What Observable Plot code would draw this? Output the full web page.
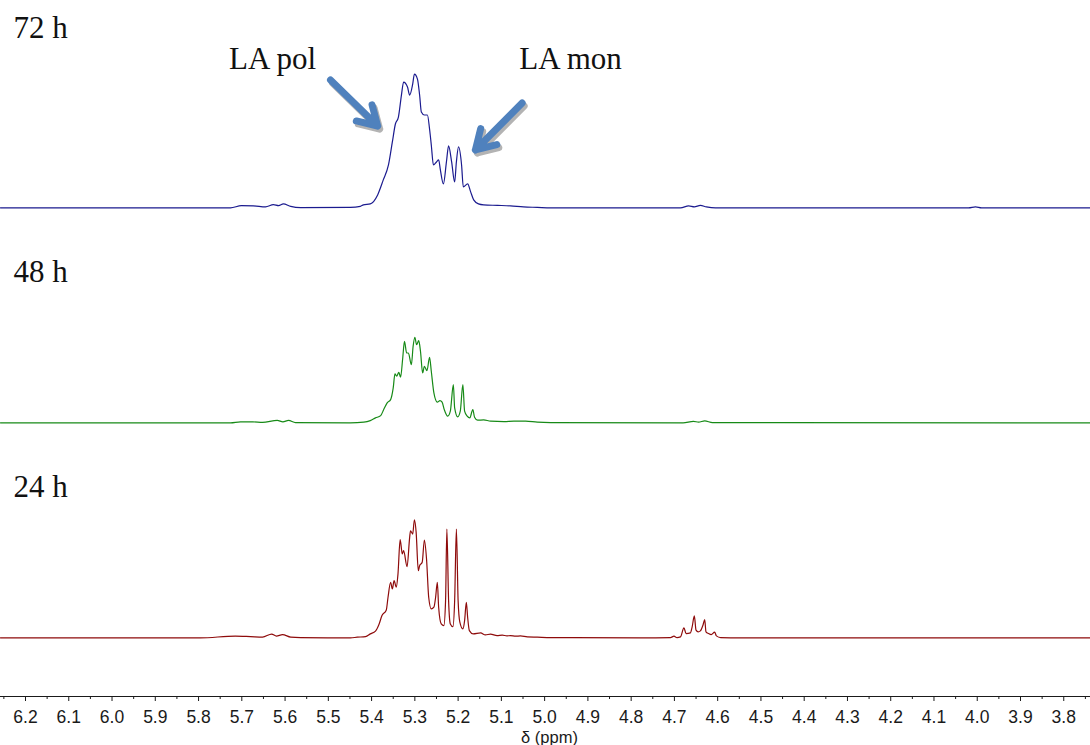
<!DOCTYPE html>
<html>
<head>
<meta charset="utf-8">
<script src="https://cdn.jsdelivr.net/npm/d3@7"></script>
<script src="https://cdn.jsdelivr.net/npm/@observablehq/plot@0.6"></script>
<style>
  html, body { margin: 0; padding: 0; background: #fff; }
  #chart { width: 1090px; height: 745px; overflow: hidden; }
</style>
</head>
<body>
<div id="chart"></div>
<script>
// ---- data (chemical shift in ppm, intensity in arbitrary units) ----
const spectrumLabels = ["72 h", "48 h", "24 h"];

const spectrum72 = [
  [6.258, 0], [5.726, 0], [5.701, 2.2], [5.673, 2], [5.645, 1], [5.627, 3.2], [5.615, 2.2],
  [5.604, 4], [5.587, 1.5], [5.564, 0.3], [5.449, 0.5], [5.426, 1.5], [5.419, 3], [5.403, 4],
  [5.386, 13], [5.373, 28], [5.361, 43], [5.352, 66], [5.345, 84], [5.338, 91], [5.331, 113],
  [5.326, 126], [5.317, 121], [5.312, 113], [5.305, 124], [5.301, 134], [5.294, 129],
  [5.289, 113], [5.285, 96], [5.278, 93], [5.271, 93], [5.266, 79], [5.262, 63], [5.257, 43],
  [5.250, 46], [5.245, 48], [5.241, 38], [5.234, 24], [5.227, 46], [5.222, 62], [5.215, 46],
  [5.208, 26], [5.204, 46], [5.199, 61], [5.192, 43], [5.188, 21], [5.178, 24], [5.171, 16],
  [5.164, 8], [5.153, 4], [5.141, 3], [5.109, 2.5], [5.079, 2], [5.049, 1], [5.017, 0.5],
  [4.986, 0], [4.686, 0], [4.667, 2], [4.654, 1], [4.640, 2.5], [4.626, 1], [4.605, 0],
  [4.020, 0], [4.004, 1], [3.990, 0], [3.738, 0]
];

const spectrum48 = [
  [6.258, 0], [5.726, 0], [5.703, 1], [5.675, 1], [5.652, 0.5], [5.618, 2.5], [5.605, 1],
  [5.592, 2.5], [5.576, 0.3], [5.449, 0], [5.418, 0.7], [5.403, 2.3], [5.391, 5], [5.379, 7.3],
  [5.372, 13.3], [5.364, 20], [5.356, 23.3], [5.350, 35], [5.346, 49], [5.342, 46.7],
  [5.337, 50.7], [5.333, 45.7], [5.328, 65], [5.324, 81.7], [5.319, 70], [5.315, 70],
  [5.308, 58.3], [5.304, 76.7], [5.300, 85.7], [5.296, 78.3], [5.291, 82.3], [5.287, 71.7],
  [5.282, 50], [5.278, 56.7], [5.272, 52.3], [5.266, 65.7], [5.262, 51.7], [5.256, 30],
  [5.248, 20.7], [5.242, 22.3], [5.237, 20.7], [5.232, 13.3], [5.224, 6.7], [5.218, 11.7],
  [5.211, 38.3], [5.208, 15], [5.201, 6], [5.195, 11.7], [5.189, 38.3], [5.185, 11.7],
  [5.179, 6.7], [5.173, 5], [5.166, 13.3], [5.162, 5.7], [5.155, 2.7], [5.141, 3],
  [5.125, 1.7], [5.094, 1.3], [5.071, 1.7], [5.044, 1.7], [5.017, 0.7], [4.986, 0.3],
  [4.680, 0], [4.656, 1.5], [4.644, 0.7], [4.630, 2], [4.612, 0.3], [3.738, 0]
];

const spectrum24 = [
  [6.258, 0], [5.796, 0], [5.715, 1.8], [5.680, 1.3], [5.652, 0.8], [5.631, 3.8], [5.620, 1.8],
  [5.606, 3.3], [5.587, 0.8], [5.564, 0.3], [5.449, 0], [5.433, 0.7], [5.414, 1.3], [5.403, 4],
  [5.391, 6.7], [5.383, 13.3], [5.376, 22.3], [5.366, 28], [5.362, 40.7], [5.356, 55.7],
  [5.352, 49], [5.348, 57.3], [5.343, 50.7], [5.339, 64], [5.334, 98.3], [5.329, 84],
  [5.326, 87.3], [5.318, 71.3], [5.312, 100.7], [5.310, 107.3], [5.305, 104], [5.301, 118.3],
  [5.297, 105.7], [5.292, 67.3], [5.289, 72.3], [5.283, 75.7], [5.278, 98], [5.273, 79],
  [5.268, 40.7], [5.262, 29], [5.256, 30.7], [5.252, 40.7], [5.248, 55.7], [5.245, 30.7],
  [5.239, 14], [5.233, 12.3], [5.229, 37.3], [5.226, 109], [5.222, 37.3], [5.218, 14],
  [5.212, 11.3], [5.208, 37.3], [5.204, 109], [5.200, 37.3], [5.196, 15.7], [5.189, 9],
  [5.185, 17.3], [5.181, 35.7], [5.178, 20.7], [5.174, 7.3], [5.165, 4], [5.148, 5],
  [5.137, 3], [5.125, 3.7], [5.110, 2.3], [5.098, 2.7], [5.087, 2], [5.079, 2.3], [5.067, 1.7],
  [5.056, 2], [5.040, 1], [5.017, 0.7], [4.986, 0.3], [4.778, 0], [4.709, 0.3], [4.701, 1.7],
  [4.694, 0.3], [4.686, 1], [4.678, 10], [4.673, 4.3], [4.663, 5], [4.659, 11], [4.654, 22],
  [4.650, 7.7], [4.645, 6], [4.640, 7], [4.634, 12.7], [4.630, 18.3], [4.627, 6], [4.621, 4.3],
  [4.615, 3.3], [4.607, 5.7], [4.603, 2], [4.593, 0.3], [4.547, 0], [3.738, 0]
];

const majorTicks = [6.2, 6.1, 6.0, 5.9, 5.8, 5.7, 5.6, 5.5, 5.4, 5.3, 5.2, 5.1, 5.0, 4.9,
  4.8, 4.7, 4.6, 4.5, 4.4, 4.3, 4.2, 4.1, 4.0, 3.9, 3.8];
const minorTicks = [6.25, 6.15, 6.05, 5.95, 5.85, 5.75, 5.65, 5.55, 5.45, 5.35, 5.25, 5.15,
  5.05, 4.95, 4.85, 4.75, 4.65, 4.55, 4.45, 4.35, 4.25, 4.15, 4.05, 3.95, 3.85, 3.75];

// annotations on the 72 h trace (ppm, intensity)
const annotationLabels = [
  {text: "LA pol", x: 5.629, y: 149},
  {text: "LA mon", x: 4.940, y: 149}
];
const annotationArrows = [
  {x1: 5.495, y1: 128, x2: 5.386, y2: 82},
  {x1: 5.052, y1: 105, x2: 5.160, y2: 58}
];

const axisTitle = "δ (ppm)";

// ---- chart ----
const serif = "'Liberation Serif', 'Times New Roman', serif";
const sans = "'Liberation Sans', Arial, Helvetica, sans-serif";
const px = d => d[0], py = d => d[1];
const xDomain = [6.2578, 3.7382];
const yDomain = [-58.7, 156.6];

const chart = Plot.plot({
  width: 1090,
  height: 745,
  marginTop: 50,
  marginBottom: 49,
  marginLeft: 0,
  marginRight: 0,
  style: {fontFamily: sans, fontSize: "17.5px", background: "white", color: "#1a1a1a", overflow: "visible"},
  x: {domain: xDomain},
  y: {domain: yDomain, axis: null},
  fy: {domain: spectrumLabels, padding: 0, axis: null},
  marks: [
    Plot.ruleY([yDomain[0]], {fy: () => "24 h", stroke: "#1a1a1a", strokeWidth: 1}),
    Plot.axisX({ticks: minorTicks, tickSize: 3, text: null, label: null}),
    Plot.axisX({ticks: majorTicks, tickSize: 5, tickPadding: 9.5, tickFormat: d3.format(".1f"), label: null}),
    Plot.text([axisTitle], {fy: () => "24 h", text: d => d, frameAnchor: "bottom", lineAnchor: "bottom", dy: 46, dx: 4, fontSize: 16.5, fontFamily: sans}),

    Plot.line(spectrum72, {x: px, y: py, fy: () => "72 h", stroke: "#1b1b8f", strokeWidth: 1.2, curve: "monotone-x"}),
    Plot.line(spectrum48, {x: px, y: py, fy: () => "48 h", stroke: "#178a17", strokeWidth: 1.2, curve: "monotone-x"}),
    Plot.line(spectrum24, {x: px, y: py, fy: () => "24 h", stroke: "#8e0b0b", strokeWidth: 1.2, curve: "monotone-x"}),

    Plot.text(["72 h"], {fy: d => d, text: d => d, frameAnchor: "top-left", lineAnchor: "bottom", dx: 13, dy: -13.3, fontFamily: serif, fontSize: 31, fill: "#111"}),
    Plot.text(["48 h", "24 h"], {fy: d => d, text: d => d, frameAnchor: "top-left", lineAnchor: "bottom", dx: 13, dy: 15, fontFamily: serif, fontSize: 31, fill: "#111"}),

    Plot.arrow(annotationArrows, {x1: "x1", y1: "y1", x2: "x2", y2: "y2", fy: () => "72 h", stroke: "#b3b3b3", strokeWidth: 7, headLength: 10, headAngle: 62, dx: 2, dy: 3}),
    Plot.arrow(annotationArrows, {x1: "x1", y1: "y1", x2: "x2", y2: "y2", fy: () => "72 h", stroke: "#4f81bd", strokeWidth: 7, headLength: 10, headAngle: 62}),
    Plot.text(annotationLabels, {x: "x", y: "y", text: "text", fy: () => "72 h", fontFamily: serif, fontSize: 31, fill: "#111"})
  ]
});

document.getElementById("chart").append(chart);
</script>
</body>
</html>
